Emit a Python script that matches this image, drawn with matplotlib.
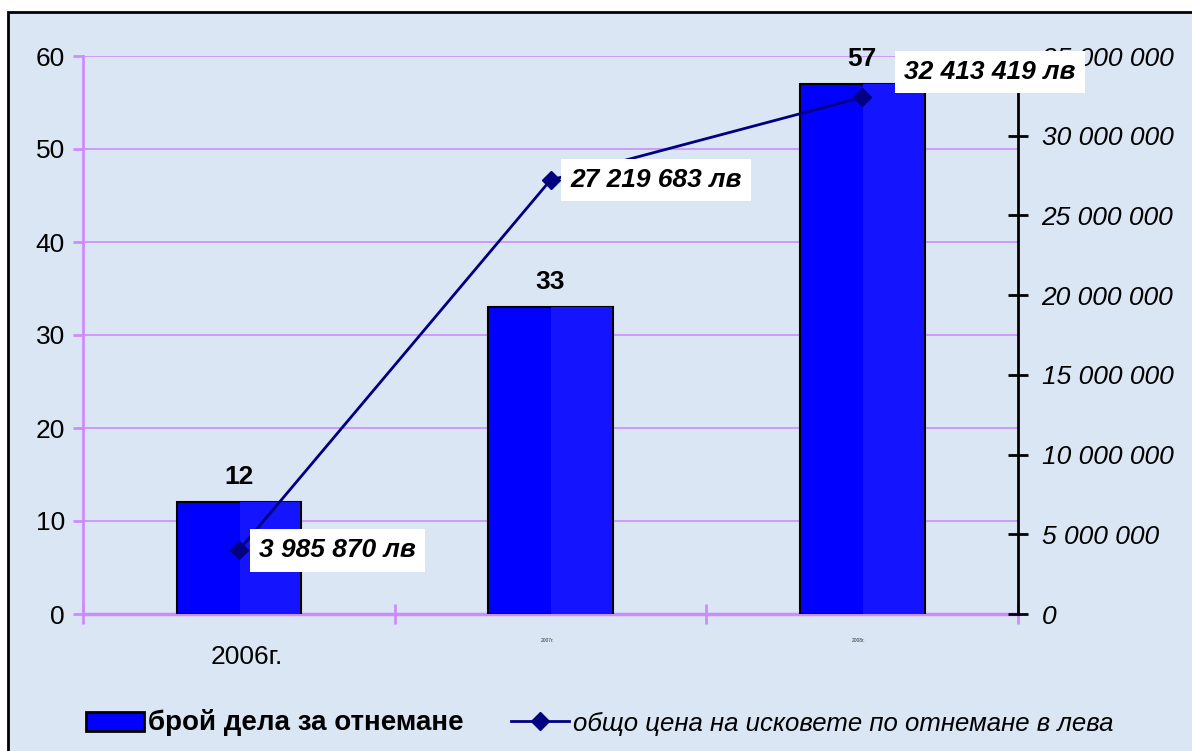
import matplotlib
matplotlib.use("Agg")
import matplotlib.pyplot as plt
from matplotlib.patches import Rectangle, Patch
from matplotlib.lines import Line2D

plt.rcParams['font.family'] = ['Liberation Sans', 'DejaVu Sans']

years = ["2006г.", "2007г.", "2008г."]
cases = [12, 33, 57]
claims = [3985870, 27219683, 32413419]
claim_labels = ["3 985 870 лв", "27 219 683 лв", "32 413 419 лв"]
right_ticks = [0, 5e6, 10e6, 15e6, 20e6, 25e6, 30e6, 35e6]
right_tick_labels = ["0", "5 000 000", "10 000 000", "15 000 000", "20 000 000",
                     "25 000 000", "30 000 000", "35 000 000"]

BG = "#dae6f4"
VIOLET = "#cc8cff"
FS = 19

fig = plt.figure(figsize=(11.92, 7.51), dpi=100)
fig.patch.set_facecolor("white")
# chart area background with black frame (right/bottom edges fall outside the image)
fig.patches.append(Rectangle((8 / 1192, -0.05), 1.1, 1 - 12 / 751 + 0.05,
                             transform=fig.transFigure, facecolor=BG,
                             edgecolor="black", linewidth=2, zorder=-5))

ax = fig.add_axes([83 / 1192, 137 / 751, 935 / 1192, 558 / 751])
ax.set_facecolor("none")
x = list(range(len(years)))
w = 0.4
ax.bar(x, cases, width=w, color="#0000ff", edgecolor="black", linewidth=1.5, zorder=3)
# lighter right half of each bar
ax.bar([i + w / 4 for i in x], cases, width=w / 2 - 0.006, color="#1414ff",
       edgecolor="none", zorder=3.5)
for i, v in zip(x, cases):
    ax.text(i, v + 1.4, str(v), ha="center", va="bottom", fontsize=FS,
            fontweight="bold", zorder=5)

ax.set_xlim(-0.5, 2.5)
ax.set_ylim(0, 60)
ax.set_yticks(range(0, 61, 10))
ax.tick_params(axis="y", labelsize=FS, colors="black", direction="out",
               length=7, width=2, color=VIOLET, pad=6)
ax.grid(axis="y", color=VIOLET, linewidth=1.2, zorder=1)
ax.set_axisbelow(True)
for s in ["top", "right"]:
    ax.spines[s].set_visible(False)
ax.spines["left"].set_color(VIOLET)
ax.spines["left"].set_linewidth(2)
ax.spines["bottom"].set_color(VIOLET)
ax.spines["bottom"].set_linewidth(2.5)
ax.set_xticks([-0.5, 0.5, 1.5, 2.5])
ax.set_xticklabels([])
ax.tick_params(axis="x", direction="inout", length=14, width=2, color=VIOLET)
# first category label is normal size, the other two are rendered tiny
ax.text(0.025, -0.077, years[0], transform=ax.get_xaxis_transform(), ha="center",
        va="center", fontsize=FS)
for i in (1, 2):
    ax.text(i - 0.01, -0.047, years[i], transform=ax.get_xaxis_transform(),
            ha="center", va="center", fontsize=3.5, color="#333333")

ax2 = ax.twinx()
ax2.set_ylim(0, 35e6)
ax2.set_yticks(right_ticks)
ax2.set_yticklabels(right_tick_labels, fontstyle="italic")
ax2.tick_params(axis="y", labelsize=FS, direction="inout", length=14, width=2,
                color="black", pad=10)
for s in ["top", "left", "bottom"]:
    ax2.spines[s].set_visible(False)
ax2.spines["right"].set_linewidth(2)
ax2.plot(x, claims, color="#000080", linewidth=2, marker="D", markersize=9,
         zorder=6)
offsets = [(20, 0), (20, 0), (42, 25)]
for i, v, lab, off in zip(x, claims, claim_labels, offsets):
    ax2.annotate(lab, (i, v), xytext=off, textcoords="offset pixels",
                 ha="left", va="center", fontsize=FS, fontweight="bold",
                 fontstyle="italic", zorder=7,
                 bbox=dict(boxstyle="square,pad=0.35", facecolor="white",
                           edgecolor="none"))
ax2.set_zorder(ax.get_zorder() + 1)
ax2.patch.set_visible(False)

handles = [Patch(facecolor="#0000ff", edgecolor="black", linewidth=2),
           Line2D([], [], color="#000080", linewidth=2, marker="D", markersize=9)]
leg = fig.legend(handles, ["брой дела за отнемане",
                           "общо цена на исковете по отнемане в лева"],
                 loc="center", bbox_to_anchor=(0.503, 28 / 751), ncol=2,
                 frameon=False, fontsize=FS, handlelength=2.2,
                 handletextpad=0.15, columnspacing=1.8)
txts = leg.get_texts()
txts[0].set_fontweight("bold")
txts[0].set_fontsize(20)
txts[1].set_fontstyle("italic")
txts[1].set_fontsize(18.5)

fig.savefig("out.png", dpi=100, facecolor=fig.get_facecolor())
